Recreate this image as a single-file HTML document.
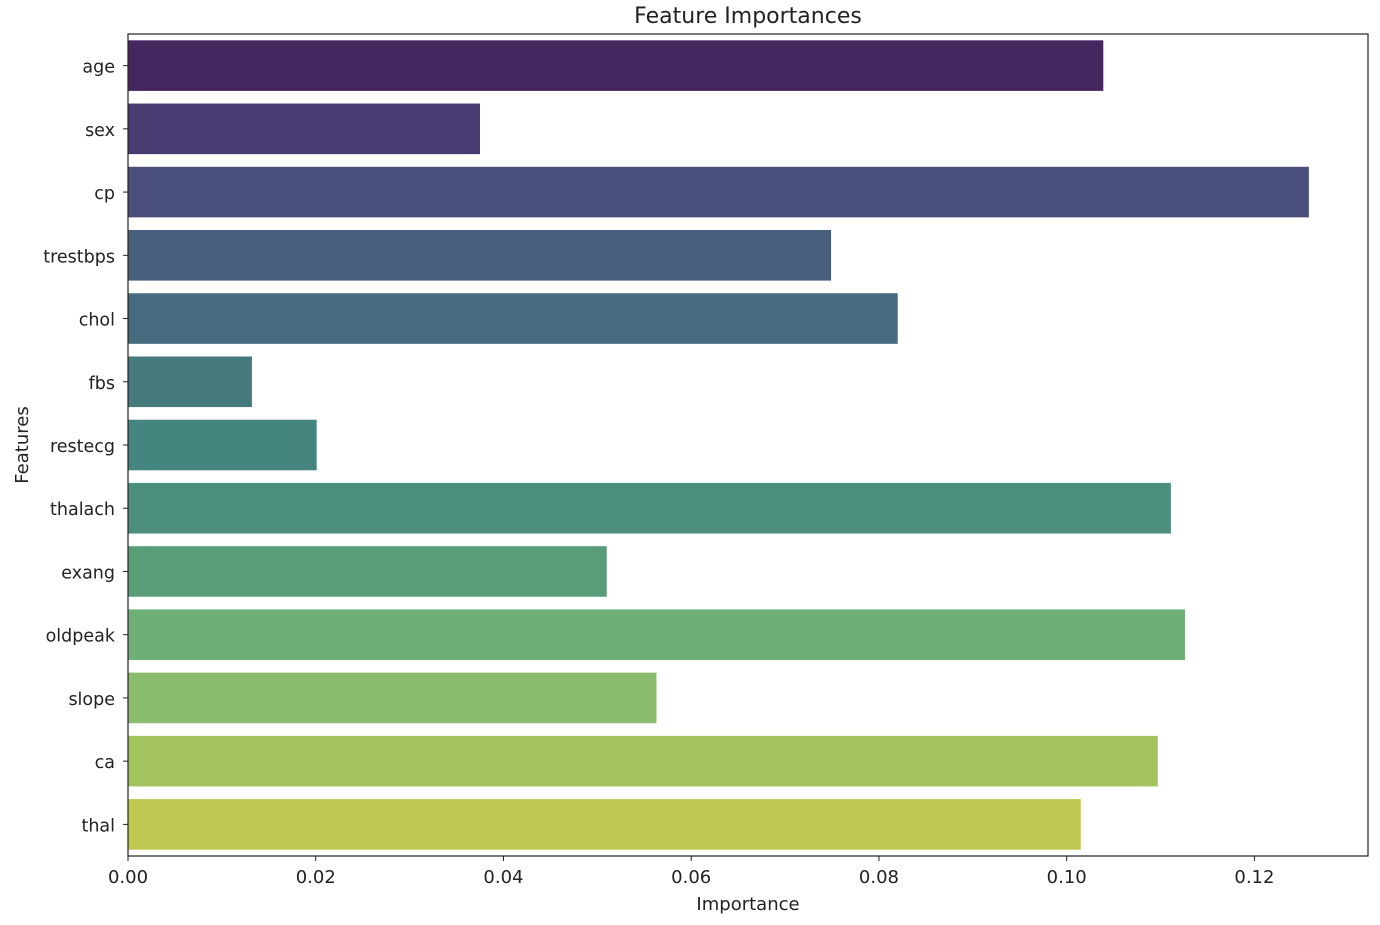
<!DOCTYPE html>
<html><head><meta charset="utf-8"><style>
html,body{margin:0;padding:0;background:#fff;}
svg text{font-family:"DejaVu Sans","Liberation Sans",sans-serif;fill:#222;}
</style></head><body>
<svg id="chart" width="1380" height="920"></svg>
<script>
const categories=["age","sex","cp","trestbps","chol","fbs","restecg","thalach","exang","oldpeak","slope","ca","thal"];
const values=[0.1039,0.0375,0.1258,0.0749,0.0820,0.0132,0.0201,0.1111,0.0510,0.1126,0.0563,0.1097,0.1015];
const tickValues=[0,0.02,0.04,0.06,0.08,0.10,0.12];
const tickLabels=["0.00","0.02","0.04","0.06","0.08","0.10","0.12"];
const colors=["#45275f","#4a3a72","#4a4e7b","#475e7d","#466a7e","#457a7c","#458580","#4b8f7c","#5a9e79","#6daf76","#89bc6d","#a3c45e","#bfc850"];
const L=128,R=1368,T=34,B=856,XMAX=0.1321;
const NS="http://www.w3.org/2000/svg";
const svg=document.getElementById('chart');
function x(v){return L+v/XMAX*(R-L);}
const band=(B-T)/categories.length;
function y(i){return T+band*i;}
function mk(tag,attrs,parent){const e=document.createElementNS(NS,tag);for(const k in attrs)e.setAttribute(k,attrs[k]);(parent||svg).appendChild(e);return e;}
categories.forEach((c,i)=>{
  const r=mk('rect',{x:L,y:y(i)+band*0.1,width:x(values[i])-L,height:band*0.8,fill:colors[i]});
  
  
  const cy=y(i)+band/2;
  mk('line',{x1:L-5,x2:L,y1:cy,y2:cy,stroke:'#222','stroke-width':1});
  const t=mk('text',{x:L-13,y:cy+7,'text-anchor':'end','font-size':17.5});
  t.textContent=c;
  
  
});
tickValues.forEach((v,i)=>{
  const px=x(v);
  mk('line',{x1:px,x2:px,y1:B,y2:B+5,stroke:'#222','stroke-width':1});
  const t=mk('text',{x:px,y:B+27,'text-anchor':'middle','font-size':18});
  t.textContent=tickLabels[i];
  
  
});
const frame=mk('rect',{x:L,y:T,width:R-L,height:B-T,fill:'none',stroke:'#222','stroke-width':1.2});


const title=mk('text',{x:(L+R)/2,y:23,'text-anchor':'middle','font-size':22});
title.textContent='Feature Importances';


const xt=mk('text',{x:(L+R)/2,y:910,'text-anchor':'middle','font-size':18});
xt.textContent='Importance';


const yt=mk('text',{x:0,y:0,'text-anchor':'middle','font-size':18,transform:'translate(28,'+((T+B)/2)+') rotate(-90)'});
yt.textContent='Features';


</script>
</body></html>
